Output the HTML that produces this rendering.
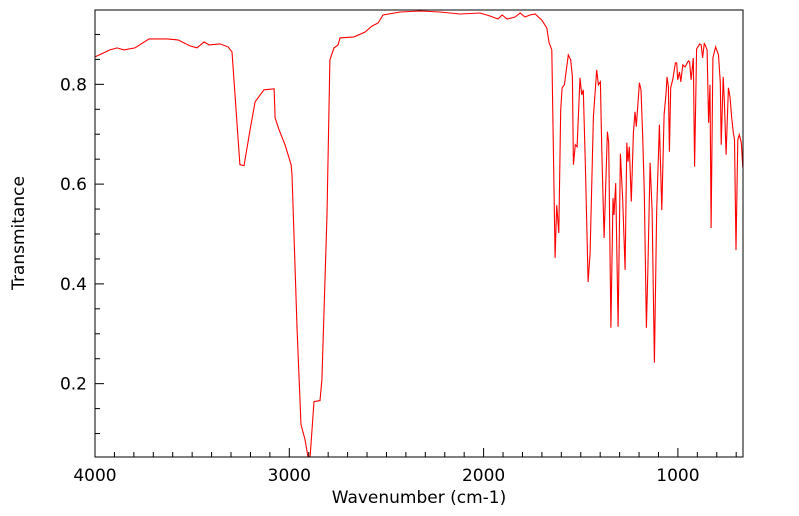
<!DOCTYPE html>
<html><head><meta charset="utf-8"><style>
body{margin:0;background:#fff;}
svg{display:block;font-family:"DejaVu Sans","Liberation Sans",sans-serif;}
</style></head><body>
<svg id="chart" width="799" height="516" viewBox="0 0 799 516">
<defs><clipPath id="clip"><rect x="95" y="10" width="648" height="447"/></clipPath></defs>
<g id="ticks"></g>
<path id="line" fill="none" stroke="#ff0000" stroke-width="1.1" clip-path="url(#clip)"/>
<rect x="95" y="10" width="648" height="447" fill="none" stroke="#000" stroke-width="1"/>
<text x="419" y="503" font-size="17" text-anchor="middle">Wavenumber (cm-1)</text>
<text transform="translate(24,233) rotate(-90)" font-size="17" text-anchor="middle">Transmitance</text>
</svg>
<script>
const wavenumbers=[4000,3923,3887,3851,3794,3722,3629,3573,3511,3475,3439,3413,3357,3315,3295,3254,3233,3202,3176,3130,3078,3073,3053,3022,2991,2986,2960,2940,2919,2904,2893,2873,2842,2832,2806,2791,2770,2749,2739,2667,2610,2574,2543,2518,2430,2327,2224,2121,2018,1967,1926,1905,1879,1838,1812,1787,1761,1735,1701,1675,1663,1649,1632,1624,1613,1603,1596,1584,1564,1552,1543,1538,1528,1519,1504,1495,1487,1476,1462,1452,1435,1418,1409,1399,1392,1380,1363,1356,1345,1334,1329,1320,1308,1296,1284,1272,1263,1257,1250,1240,1229,1221,1214,1198,1190,1181,1173,1162,1155,1143,1133,1121,1109,1095,1083,1071,1061,1056,1049,1044,1037,1027,1013,1006,1001,992,985,975,963,946,940,932,921,914,904,888,880,873,864,850,842,835,829,820,806,791,782,777,767,761,752,740,732,723,715,709,701,692,684,674,666];
const transmittance=[0.855,0.869,0.873,0.869,0.873,0.891,0.891,0.889,0.877,0.873,0.885,0.879,0.881,0.875,0.865,0.639,0.637,0.709,0.765,0.789,0.791,0.733,0.709,0.679,0.639,0.619,0.308,0.118,0.088,0.053,0.053,0.164,0.166,0.208,0.539,0.849,0.873,0.879,0.893,0.895,0.905,0.917,0.923,0.939,0.945,0.947,0.945,0.941,0.943,0.937,0.931,0.939,0.931,0.935,0.943,0.935,0.939,0.941,0.929,0.913,0.883,0.869,0.452,0.558,0.502,0.749,0.793,0.799,0.859,0.849,0.815,0.639,0.679,0.675,0.813,0.779,0.789,0.635,0.404,0.462,0.735,0.829,0.799,0.805,0.675,0.492,0.705,0.683,0.312,0.572,0.538,0.602,0.314,0.661,0.569,0.428,0.683,0.645,0.675,0.565,0.703,0.745,0.715,0.803,0.789,0.695,0.583,0.312,0.422,0.643,0.548,0.242,0.548,0.719,0.548,0.739,0.783,0.815,0.795,0.665,0.793,0.809,0.843,0.843,0.809,0.825,0.805,0.839,0.835,0.847,0.845,0.809,0.853,0.635,0.871,0.881,0.879,0.853,0.883,0.869,0.723,0.799,0.512,0.853,0.875,0.859,0.803,0.679,0.815,0.769,0.659,0.793,0.775,0.733,0.703,0.689,0.468,0.689,0.699,0.683,0.633];
const xTickLabels=[4000,3000,2000,1000];
const yTickLabels=[0.2,0.4,0.6,0.8];
const X0=95,X1=743,Y0=457,Y1=10,WMAX=4000,WMIN=665,TMIN=0.053,TMAX=0.949;
const xs=w=>X0+(WMAX-w)/(WMAX-WMIN)*(X1-X0);
const ys=t=>Y0-(t-TMIN)/(TMAX-TMIN)*(Y0-Y1);
const NS='http://www.w3.org/2000/svg';
let d='';
wavenumbers.forEach((w,i)=>{d+=(i?'L':'M')+xs(w).toFixed(1)+','+ys(transmittance[i]).toFixed(1);});
document.getElementById('line').setAttribute('d',d);
const g=document.getElementById('ticks');
function ln(x1,y1,x2,y2){const l=document.createElementNS(NS,'line');l.setAttribute('x1',x1);l.setAttribute('y1',y1);l.setAttribute('x2',x2);l.setAttribute('y2',y2);l.setAttribute('stroke','#000');l.setAttribute('stroke-width','1');


g.appendChild(l);}
function tx(x,y,s,a){const t=document.createElementNS(NS,'text');t.setAttribute('x',x);t.setAttribute('y',y);t.setAttribute('font-size','17');t.setAttribute('text-anchor',a);t.textContent=s;


g.appendChild(t);}
for(let w=4000;w>=WMIN;w-=100){const x=xs(w);const major=w%1000===0;ln(x,Y0,x,Y0-(major?9:5));}
xTickLabels.forEach(w=>tx(xs(w),481,String(w),'middle'));
for(let k=2;k*0.05<=TMAX;k++){const t=k*0.05;if(t<TMIN)continue;const y=ys(t);const major=k%4===0;ln(X0,y,X0+(major?9:5),y);}
yTickLabels.forEach(t=>tx(X0-8,ys(t)+6,t.toFixed(1),'end'));
</script>
</body></html>
